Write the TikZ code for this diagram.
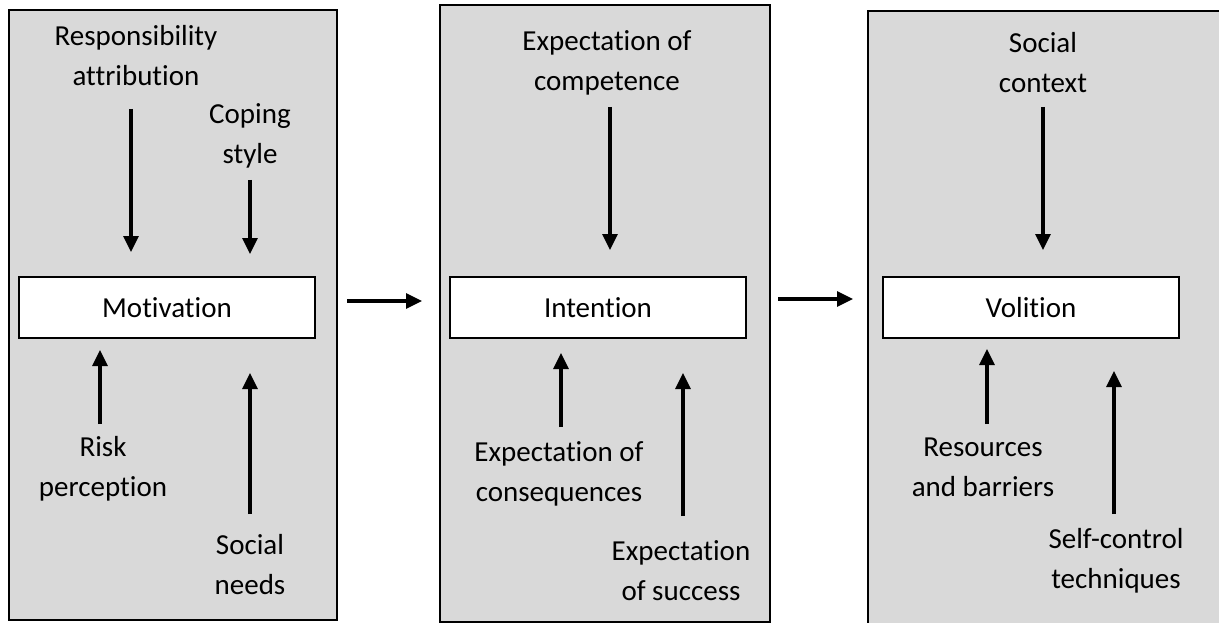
\documentclass[tikz,border=0pt]{standalone}
\usepackage{fontspec}
\setmainfont{Carlito}[Ligatures={NoCommon}]
\usetikzlibrary{arrows.meta}
\begin{document}
\begin{tikzpicture}[x=1pt,y=-1pt,
  panel/.style={draw=black, line width=2pt, fill=panelgray},
  core/.style={draw=black, line width=2pt, fill=white, minimum width=296pt, minimum height=61pt, inner sep=0pt, font=\fontsize{29}{40}\selectfont},
  lbl/.style={align=center, inner sep=0pt, font=\fontsize{29}{40}\selectfont},
  arr/.style={line width=3.2pt, -{Triangle[length=16pt,width=15pt]}}
]
\definecolor{panelgray}{HTML}{D9D9D9}
\useasboundingbox (0,0) rectangle (1219,623);
\clip (0,0) rectangle (1219,623);
% panels
\draw[panel] (9,10) rectangle (337,620);
\draw[panel] (440,5) rectangle (770,622);
\draw[panel] (868,11) rectangle (1240,650);
% core boxes
\node[core] (mot) at (167,307.5) {Motivation};
\node[core] (int) at (598,307.5) {Intention};
\node[core] (vol) at (1031,307.5) {Volition};
% labels panel 1
\node[lbl] (resp) at (136,56) {Responsibility\\attribution};
\node[lbl] (cope) at (250,136) {Coping\\style};
\node[lbl] (risk) at (103,469) {Risk\\perception};
\node[lbl] (soc) at (250,565) {Social\\needs};
% labels panel 2
\node[lbl] (comp) at (607,63) {Expectation of\\competence};
\node[lbl] (cons) at (559,474) {Expectation of\\consequences};
\node[lbl] (succ) at (681,571) {Expectation\\of success};
% labels panel 3
\node[lbl] (sctx) at (1043,63) {Social\\context};
\node[lbl] (res) at (983,467) {Resources\\and barriers};
\node[lbl] (self) at (1116,561) {Self-control\\techniques};
% arrow coordinates
\coordinate (a1s) at (131,109); \coordinate (a1e) at (131,252);
\coordinate (a2s) at (250,180); \coordinate (a2e) at (250,254);
\coordinate (a3s) at (100,424); \coordinate (a3e) at (100,350);
\coordinate (a4s) at (250,514); \coordinate (a4e) at (250,373);
\coordinate (b1s) at (610,107); \coordinate (b1e) at (610,250);
\coordinate (b2s) at (561,427); \coordinate (b2e) at (561,353);
\coordinate (b3s) at (683,516); \coordinate (b3e) at (683,373);
\coordinate (c1s) at (1043,107); \coordinate (c1e) at (1043,250);
\coordinate (c2s) at (987,424); \coordinate (c2e) at (987,349);
\coordinate (c3s) at (1114,514); \coordinate (c3e) at (1114,371);
\coordinate (m1s) at (347,301); \coordinate (m1e) at (422,301);
\coordinate (m2s) at (778,299); \coordinate (m2e) at (853,299);
\draw[arr] (a1s) -- (a1e);
\draw[arr] (a2s) -- (a2e);
\draw[arr] (a3s) -- (a3e);
\draw[arr] (a4s) -- (a4e);
\draw[arr] (b1s) -- (b1e);
\draw[arr] (b2s) -- (b2e);
\draw[arr] (b3s) -- (b3e);
\draw[arr] (c1s) -- (c1e);
\draw[arr] (c2s) -- (c2e);
\draw[arr] (c3s) -- (c3e);
\draw[arr] (m1s) -- (m1e);
\draw[arr] (m2s) -- (m2e);
\end{tikzpicture}
\end{document}
